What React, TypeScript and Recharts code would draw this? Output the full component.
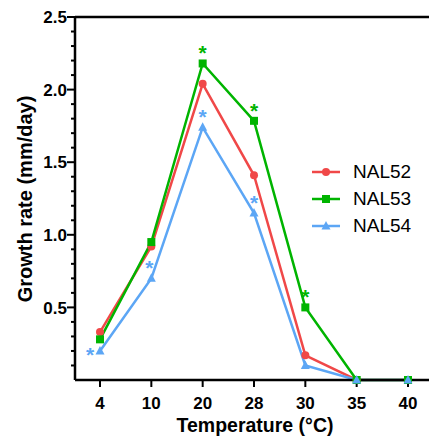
import React from "react";
import { LineChart, Line, XAxis, YAxis, ReferenceLine, Legend, Label } from "recharts";

const temperatures = ["4", "10", "20", "28", "30", "35", "40"];
const seriesNames = ["NAL52", "NAL53", "NAL54"];
const nal52 = [0.33, 0.92, 2.04, 1.41, 0.17, 0, 0];
const nal53 = [0.28, 0.95, 2.18, 1.785, 0.5, 0, 0];
const nal54 = [0.2, 0.7, 1.74, 1.15, 0.1, 0, 0];
// significance stars
const sig53 = [false, false, true, true, true, false, false];
const sig54 = [true, true, true, true, false, false, false];

const majorTicks = [0.5, 1.0, 1.5, 2.0, 2.5];
const allTicks = [
  0.1, 0.2, 0.3, 0.4, 0.5, 0.6, 0.7, 0.8, 0.9, 1.0, 1.1, 1.2, 1.3, 1.4, 1.5, 1.6, 1.7, 1.8, 1.9, 2.0, 2.1,
  2.2, 2.3, 2.4, 2.5,
];

const RED = "#f04848";
const GREEN = "#00b400";
const BLUE = "#5ca6f5";
const colors = [RED, GREEN, BLUE];
const FONT = "'Liberation Sans', Arial, Helvetica, sans-serif";

const data = temperatures.map((t, i) => ({
  idx: i,
  temp: t,
  nal52: nal52[i],
  nal53: nal53[i],
  nal54: nal54[i],
}));

const YTick = (props: any) => {
  const { x, y, payload } = props;
  const major = majorTicks.includes(payload.value);
  if (!major) {
    return <line x1={x - 4} x2={x} y1={y} y2={y} stroke="#000" strokeWidth={2} />;
  }
  return (
    <g>
      <line x1={x - 8} x2={x} y1={y} y2={y} stroke="#000" strokeWidth={2} />
      <text x={x - 8} y={y} dy="0.36em" textAnchor="end" fontFamily={FONT} fontWeight="bold" fontSize={17} fill="#000">
        {payload.value.toFixed(1)}
      </text>
    </g>
  );
};

const Square = (props: any) => {
  const { cx, cy } = props;
  if (cx == null || cy == null) return null;
  return <rect x={cx - 4} y={cy - 4} width={8} height={8} fill={GREEN} />;
};

const Triangle = (props: any) => {
  const { cx, cy } = props;
  if (cx == null || cy == null) return null;
  return <polygon points={`${cx},${cy - 5} ${cx - 4.5},${cy + 3.5} ${cx + 4.5},${cy + 3.5}`} fill={BLUE} />;
};

const starLabel = (sig: boolean[], color: string) => (props: any) => {
  const { x, y, index } = props;
  if (!sig[index] || x == null || y == null) return null;
  const sx = index === 0 ? x - 10 : index === 1 ? x - 2 : x;
  const sy = index === 0 ? y + 11 : y - 3;
  return (
    <text x={sx} y={sy} textAnchor="middle" fontFamily={FONT} fontWeight="bold" fontSize={21} fill={color}>
      *
    </text>
  );
};

const LegendBox = () => (
  <div style={{ fontFamily: FONT, fontSize: 19, color: "#000" }}>
    {seriesNames.map((name, i) => (
      <div key={name} style={{ display: "flex", alignItems: "center", height: 27 }}>
        <svg width={30} height={12} style={{ display: "block" }}>
          <line x1={0} x2={28} y1={6} y2={6} stroke={colors[i]} strokeWidth={2.5} />
          {i === 0 && <circle cx={14} cy={6} r={4} fill={RED} />}
          {i === 1 && <rect x={10} y={2} width={8} height={8} fill={GREEN} />}
          {i === 2 && <polygon points="14,1 9.5,9.5 18.5,9.5" fill={BLUE} />}
        </svg>
        <span style={{ marginLeft: 11, lineHeight: "27px" }}>{name}</span>
      </div>
    ))}
  </div>
);

export default function App() {
  return (
    <div style={{ position: "absolute", left: 0, top: 0, background: "#fff" }}>
      <LineChart width={429} height={438} data={data} margin={{ top: 17, right: 0, bottom: 0, left: 0 }}>
        <XAxis
          dataKey="idx"
          type="number"
          domain={[-0.487, 6.409]}
          ticks={[0, 1, 2, 3, 4, 5, 6]}
          interval={0}
          tickFormatter={(i: number) => temperatures[i]}
          height={58}
          tickSize={7}
          tickMargin={10}
          axisLine={{ stroke: "#000", strokeWidth: 2.5 }}
          tickLine={{ stroke: "#000", strokeWidth: 2 }}
          tick={{ fill: "#000", fontFamily: FONT, fontWeight: "bold", fontSize: 17 }}
        >
          <Label
            content={() => (
              <text x={255} y={432} textAnchor="middle" fontFamily={FONT} fontWeight="bold" fontSize={19.5} fill="#000">
                Temperature (°C)
              </text>
            )}
          />
        </XAxis>
        <YAxis
          type="number"
          domain={[0, 2.5]}
          ticks={allTicks}
          interval={0}
          width={75}
          tickSize={0}
          tickMargin={0}
          tickLine={false}
          axisLine={{ stroke: "#000", strokeWidth: 2.5 }}
          tick={<YTick />}
        >
          <Label
            content={() => (
              <text
                x={32}
                y={199}
                transform="rotate(-90, 32, 199)"
                textAnchor="middle"
                fontFamily={FONT}
                fontWeight="bold"
                fontSize={20}
                fill="#000"
              >
                Growth rate (mm/day)
              </text>
            )}
          />
        </YAxis>
        <ReferenceLine y={2.5} stroke="#000" strokeWidth={2.5} />
        <Legend
          layout="vertical"
          align="center"
          verticalAlign="middle"
          wrapperStyle={{ left: 312, top: 158, width: 117 }}
          content={() => <LegendBox />}
        />
        <Line
          type="linear"
          dataKey="nal52"
          name="NAL52"
          stroke={RED}
          strokeWidth={2.5}
          dot={{ r: 4, fill: RED, stroke: RED, strokeWidth: 0 }}
          isAnimationActive={false}
        />
        <Line
          type="linear"
          dataKey="nal53"
          name="NAL53"
          stroke={GREEN}
          strokeWidth={2.5}
          dot={<Square />}
          label={starLabel(sig53, GREEN)}
          isAnimationActive={false}
        />
        <Line
          type="linear"
          dataKey="nal54"
          name="NAL54"
          stroke={BLUE}
          strokeWidth={2.5}
          dot={<Triangle />}
          label={starLabel(sig54, BLUE)}
          isAnimationActive={false}
        />
      </LineChart>
    </div>
  );
}
